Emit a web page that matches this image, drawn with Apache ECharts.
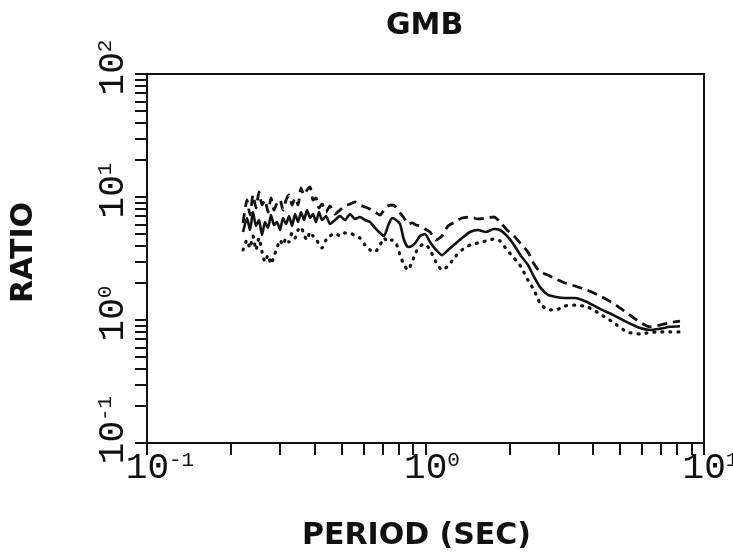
<!DOCTYPE html>
<html>
<head>
<meta charset="utf-8">
<script src="https://cdn.jsdelivr.net/npm/echarts@6/dist/echarts.min.js"></script>
<style>html,body{margin:0;padding:0;background:#fff}#c{width:733px;height:557px}</style>
</head>
<body>
<div id="c"></div>
<script>
// Period (s) sampled along the curves
const periods = [0.2212,0.2286,0.2343,0.2402,0.2462,0.2524,0.2588,0.2653,0.2720,0.2788,0.2858,0.2930,0.3004,0.3079,0.3157,0.3236,0.3317,0.3401,0.3486,0.3573,0.3663,0.3755,0.3849,0.3946,0.4045,0.4146,0.4250,0.4392,0.4540,0.4732,0.4932,0.5140,0.5357,0.5583,0.5818,0.6064,0.6320,0.6587,0.6865,0.7096,0.7335,0.7582,0.7837,0.8101,0.8373,0.8655,0.8944,0.9245,0.9557,0.9959,1.038,1.091,1.146,1.205,1.276,1.352,1.445,1.543,1.649,1.762,1.851,1.962,2.079,2.203,2.333,2.453,2.577,2.754,2.941,3.168,3.441,3.801,4.233,4.712,5.290,5.891,6.400,6.950,7.550,8.200];
// Median ratio (solid)
const median = [5.19,6.75,5.39,7.55,5.81,6.50,4.91,6.26,5.60,7.14,5.92,6.26,5.39,6.75,6.03,7.01,5.81,7.27,6.26,7.55,6.50,7.84,6.75,7.27,6.26,7.55,6.50,7.01,6.03,6.50,7.01,6.50,7.27,6.63,6.88,6.50,6.26,5.60,5.10,4.82,5.81,6.75,6.50,6.03,4.47,3.92,4.00,4.31,4.82,5.00,4.31,3.71,3.37,3.71,4.15,4.64,5.19,5.39,5.19,5.49,5.39,4.82,4.07,3.31,2.80,2.24,1.85,1.60,1.54,1.51,1.51,1.40,1.23,1.10,0.96,0.86,0.83,0.85,0.88,0.89];
// Upper ratio (dashed)
const upper = [6.15,9.45,7.14,10.38,8.14,10.98,8.61,9.45,7.55,9.81,7.84,8.94,9.45,7.84,9.45,10.38,8.61,9.81,8.61,11.84,10.38,11.40,12.06,9.45,9.81,8.14,8.77,7.55,8.45,7.27,7.84,8.45,8.77,9.11,8.61,8.29,7.99,7.55,7.14,7.84,8.45,8.61,8.29,7.41,6.75,6.03,6.15,5.92,5.81,5.49,5.19,4.47,4.82,5.81,6.26,6.75,6.88,6.63,6.75,6.88,6.26,5.39,4.82,4.15,3.57,2.85,2.46,2.32,2.15,2.00,1.89,1.75,1.57,1.37,1.14,0.96,0.88,0.91,0.95,0.98];
// Lower ratio (dotted)
const lower = [3.71,4.47,3.85,4.82,3.71,4.64,3.57,2.96,3.37,2.85,3.31,3.85,4.47,4.07,4.64,4.31,5.10,4.64,5.39,5.70,4.91,4.47,5.19,4.82,4.64,4.07,3.85,4.47,4.82,5.10,4.82,5.10,5.10,4.82,4.64,4.07,3.71,3.57,4.07,4.64,4.31,4.47,4.23,3.37,2.80,2.55,2.96,3.57,4.00,4.15,3.71,2.96,2.55,2.75,3.25,3.71,4.07,4.23,4.39,4.56,4.39,3.71,3.19,2.70,2.11,1.75,1.37,1.21,1.21,1.30,1.32,1.28,1.12,0.96,0.80,0.77,0.79,0.80,0.80,0.80];

const xTicks = [0.1,0.2,0.3,0.4,0.5,0.6,0.7,0.8,0.9,1,2,3,4,5,6,7,8,9,10];
const yTicks = [0.1,0.2,0.3,0.4,0.5,0.6,0.7,0.8,0.9,1,2,3,4,5,6,7,8,9,10,20,30,40,50,60,70,80,90,100];

const INK = '#111';
const MONO = "'Liberation Mono', 'DejaVu Sans Mono', monospace";
const BOLD = "'DejaVu Sans', sans-serif";

function pairs(vals){ return periods.map((p,i)=>[p, vals[i]]); }
function expLabel(v){
  const e = Math.round(Math.log10(v));
  const s = String(e);
  return '{p' + s.length + '|}{b|10}{s|' + s + '}';
}
const rich = {
  b: {fontFamily: MONO, fontSize: 36, color: INK, lineHeight: 36, verticalAlign: 'bottom'},
  s: {fontFamily: MONO, fontSize: 21, color: INK, lineHeight: 36, verticalAlign: 'top', padding: [0,0,14,0]},
  p1: {width: 13},
  p2: {width: 26}
};

const chart = echarts.init(document.getElementById('c'), null, {renderer: 'canvas'});
chart.setOption({
  backgroundColor: '#fff',
  animation: false,
  title: {
    text: 'GMB', left: 381, top: 6,
    textStyle: {fontFamily: BOLD, fontWeight: 'bold', fontSize: 30, color: INK}
  },
  grid: {left: 147, right: 29, top: 74, bottom: 114, containLabel: false, outerBoundsMode: 'none',
         show: true, borderColor: INK, borderWidth: 2, backgroundColor: 'transparent'},
  xAxis: {
    type: 'log', logBase: 10, min: 0.1, max: 10,
    name: 'PERIOD (SEC)', nameLocation: 'middle', nameGap: 78,
    nameTextStyle: {fontFamily: BOLD, fontWeight: 'bold', fontSize: 30, color: INK, padding: [0, 18, 0, 0]},
    axisLine: {show: true, lineStyle: {color: INK, width: 2}},
    axisTick: {show: true, inside: false, length: 12, lineStyle: {color: INK, width: 2}, customValues: xTicks},
    axisLabel: {formatter: expLabel, rich: rich, margin: 7, showMinLabel: true, showMaxLabel: true},
    splitLine: {show: false}
  },
  yAxis: {
    type: 'log', logBase: 10, min: 0.1, max: 100,
    name: 'RATIO', nameLocation: 'middle', nameGap: 108, nameRotate: 90,
    nameTextStyle: {fontFamily: BOLD, fontWeight: 'bold', fontSize: 30, color: INK, padding: [0, 0, 0, 12]},
    axisLine: {show: true, lineStyle: {color: INK, width: 2}},
    axisTick: {show: true, inside: false, length: 12, lineStyle: {color: INK, width: 2}, customValues: yTicks},
    axisLabel: {formatter: expLabel, rich: rich, rotate: 90, margin: 16, showMinLabel: true, showMaxLabel: true},
    splitLine: {show: false}
  },
  series: [
    {name: 'median', type: 'line', data: pairs(median), showSymbol: false, smooth: 0.2,
     lineStyle: {color: INK, width: 2.6, type: 'solid'}},
    {name: 'upper', type: 'line', data: pairs(upper), showSymbol: false, smooth: 0.2,
     lineStyle: {color: INK, width: 2.8, type: [10, 6]}},
    {name: 'lower', type: 'line', data: pairs(lower), showSymbol: false, smooth: 0.2,
     lineStyle: {color: INK, width: 3.2, type: [1, 7], cap: 'round'}}
  ]
});
</script>
</body>
</html>
